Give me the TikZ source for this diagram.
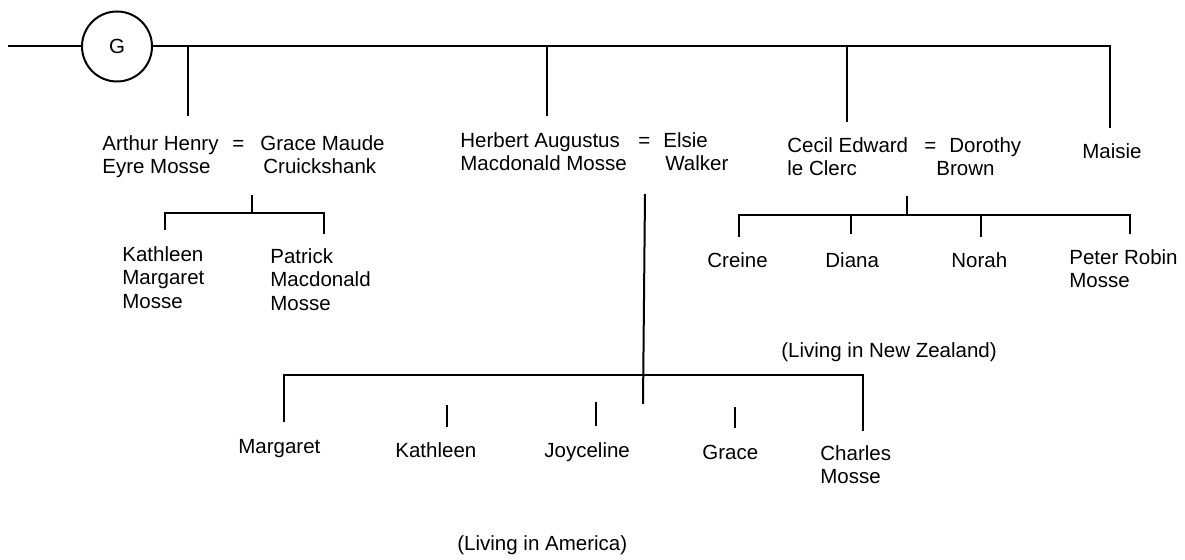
\documentclass[tikz,border=0pt]{standalone}
\usepackage{fontspec}
\setmainfont{Liberation Sans}
% fixed first-line height so that text can be placed by its baseline
\newcommand\tp{\rule{0pt}{10.25pt}}
\tikzset{
  lbl/.style={anchor=north west, inner sep=0pt, align=left, yshift=10.25pt,
              font=\fontsize{10.25}{11.75}\selectfont},
  ln/.style={line width=1pt},
  root/.style={draw, circle, line width=1pt, minimum size=35pt, inner sep=0pt,
               font=\fontsize{10.25}{11.75}\selectfont},
}
\begin{document}
\begin{tikzpicture}[x=0.5pt, y=-0.5pt]
  \useasboundingbox (0,0) rectangle (1185,560);

  % ---- head of the family ----
  \coordinate (stub) at (8,46.5);
  \node[root] (G) at (117,46.5) {G};
  \coordinate (barEnd) at (1110,46.5);
  \draw[ln] (stub) -- (G.west);
  \draw[ln] (G.east) -- (barEnd) -- (1110,128) coordinate (maisieTop);

  % drops to the children of G
  \coordinate (jA) at (188,46.5);  \coordinate (jAb) at (188,116);
  \coordinate (jH) at (547,46.5);  \coordinate (jHb) at (547,116);
  \coordinate (jC) at (847,46.5);  \coordinate (jCb) at (847,122);
  \draw[ln] (jA) -- (jAb);
  \draw[ln] (jH) -- (jHb);
  \draw[ln] (jC) -- (jCb);

  % ---- second generation ----
  \node[lbl] (arthur) at (102,150) {\tp Arthur Henry\\Eyre Mosse};
  \node[lbl] (eqA)    at (232,150) {\tp =};
  \node[lbl] (grace)  at (260,150) {\tp Grace Maude\\\hspace{1.5pt}Cruickshank};

  \node[lbl] (herbert) at (460,147) {\tp Herbert Augustus\\Macdonald Mosse};
  \node[lbl] (eqH)     at (638,147) {\tp =};
  \node[lbl] (elsie)   at (663,147) {\tp Elsie\\\hspace{1pt}Walker};

  \node[lbl] (cecil)   at (787,152) {\tp Cecil Edward\\le Clerc};
  \node[lbl] (eqC)     at (924,152) {\tp =};
  \node[lbl] (dorothy) at (936,152) {\tp\hspace{6.5pt}Dorothy\\Brown};

  \node[lbl] (maisie)  at (1082,158) {\tp Maisie};

  % ---- children of Arthur Henry ----
  \coordinate (aTop) at (252,195);
  \coordinate (aMid) at (252,213);
  \coordinate (aL) at (165,213);  \coordinate (aLb) at (165,230);
  \coordinate (aR) at (324,213);  \coordinate (aRb) at (324,234);
  \draw[ln] (aTop) -- (aMid);
  \draw[ln] (aLb) -- (aL) -- (aR) -- (aRb);
  \node[lbl] (kathM)   at (122,261) {\tp Kathleen\\Margaret\\Mosse};
  \node[lbl] (patrick) at (270,263) {\tp Patrick\\Macdonald\\Mosse};

  % ---- children of Cecil Edward ----
  \coordinate (cTop) at (907,196);
  \coordinate (cMid) at (907,215);
  \coordinate (cL) at (739,215);   \coordinate (cLb) at (739,237);
  \coordinate (cR) at (1130,215);  \coordinate (cRb) at (1130,234);
  \coordinate (cD) at (851,215);   \coordinate (cDb) at (851,234);
  \coordinate (cN) at (981,215);   \coordinate (cNb) at (981,237);
  \draw[ln] (cTop) -- (cMid);
  \draw[ln] (cLb) -- (cL) -- (cR) -- (cRb);
  \draw[ln] (cD) -- (cDb);
  \draw[ln] (cN) -- (cNb);
  \node[lbl] (creine) at (707,267) {\tp Creine};
  \node[lbl] (diana)  at (825,267) {\tp Diana};
  \node[lbl] (norah)  at (951,267) {\tp Norah};
  \node[lbl] (peter)  at (1069,264) {\tp Peter Robin\\Mosse};
  \node[lbl] (nz)     at (781,357) {\tp (Living in New Zealand)};

  % ---- children of Herbert Augustus ----
  \coordinate (hTop) at (645,194);
  \coordinate (hBot) at (643,404);
  \coordinate (hL) at (284,375);  \coordinate (hLb) at (284,422);
  \coordinate (hR) at (863,375);  \coordinate (hRb) at (863,431);
  \draw[ln] (hTop) -- (hBot);
  \draw[ln] (hLb) -- (hL) -- (hR) -- (hRb);
  \draw[ln] (447,405) coordinate (tK) -- (447,427) coordinate (tKb);
  \draw[ln] (596,402) coordinate (tJ) -- (596,426) coordinate (tJb);
  \draw[ln] (735,407) coordinate (tG) -- (735,428) coordinate (tGb);
  \node[lbl] (margaret)  at (238,453) {\tp Margaret};
  \node[lbl] (kathleen)  at (395,457) {\tp Kathleen};
  \node[lbl] (joyceline) at (544,457) {\tp Joyceline};
  \node[lbl] (graceH)    at (702,459) {\tp Grace};
  \node[lbl] (charles)   at (820,460) {\tp Charles\\Mosse};
  \node[lbl] (america)   at (457,550) {\tp (Living in America)};
\end{tikzpicture}
\end{document}
